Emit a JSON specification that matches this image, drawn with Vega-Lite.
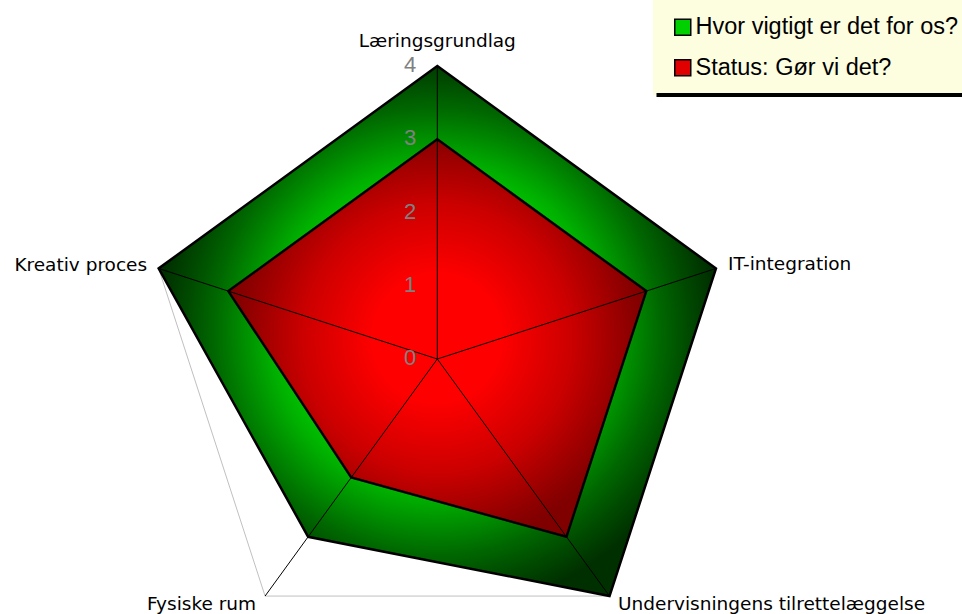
{
  "$schema": "https://vega.github.io/schema/vega-lite/v6.json",
  "width": 962,
  "height": 614,
  "autosize": "none",
  "padding": 0,
  "background": "white",
  "config": {"view": {"stroke": null}, "legend": {"strokeWidth": 4, "strokeDash": [0, 400, 333.5, 3000]}},
  "datasets": {
    "scores": [
      {"series": "Hvor vigtigt er det for os?", "axis": "Læringsgrundlag", "idx": 0, "value": 4},
      {"series": "Hvor vigtigt er det for os?", "axis": "IT-integration", "idx": 1, "value": 4},
      {"series": "Hvor vigtigt er det for os?", "axis": "Undervisningens tilrettelæggelse", "idx": 2, "value": 4},
      {"series": "Hvor vigtigt er det for os?", "axis": "Fysiske rum", "idx": 3, "value": 3},
      {"series": "Hvor vigtigt er det for os?", "axis": "Kreativ proces", "idx": 4, "value": 4},
      {"series": "Status: Gør vi det?", "axis": "Læringsgrundlag", "idx": 0, "value": 3},
      {"series": "Status: Gør vi det?", "axis": "IT-integration", "idx": 1, "value": 3},
      {"series": "Status: Gør vi det?", "axis": "Undervisningens tilrettelæggelse", "idx": 2, "value": 3},
      {"series": "Status: Gør vi det?", "axis": "Fysiske rum", "idx": 3, "value": 2},
      {"series": "Status: Gør vi det?", "axis": "Kreativ proces", "idx": 4, "value": 3}
    ],
    "axes": [
      {"axis": "Læringsgrundlag", "idx": 0, "max": 4},
      {"axis": "IT-integration", "idx": 1, "max": 4},
      {"axis": "Undervisningens tilrettelæggelse", "idx": 2, "max": 4},
      {"axis": "Fysiske rum", "idx": 3, "max": 4},
      {"axis": "Kreativ proces", "idx": 4, "max": 4}
    ],
    "ticks": [{"tick": 0}, {"tick": 1}, {"tick": 2}, {"tick": 3}, {"tick": 4}]
  },
  "layer": [
    {
      "data": {"name": "axes"},
      "transform": [
        {"calculate": "datum.idx*2*PI/5", "as": "a"},
        {"calculate": "datum.max*sin(datum.a)", "as": "x"},
        {"calculate": "datum.max*cos(datum.a)", "as": "y"}
      ],
      "mark": {"type": "line", "interpolate": "linear-closed", "stroke": "#c0c0c0", "strokeWidth": 1},
      "encoding": {
        "x": {"field": "x", "type": "quantitative", "scale": {"domain": [-5.97, 7.163], "nice": false, "zero": false}, "axis": null},
        "y": {"field": "y", "type": "quantitative", "scale": {"domain": [-3.481, 4.901], "nice": false, "zero": false}, "axis": null},
        "order": {"field": "idx", "type": "quantitative"}
      }
    },
    {
      "data": {"name": "scores"},
      "transform": [
        {"filter": "datum.series === 'Hvor vigtigt er det for os?'"},
        {"calculate": "datum.idx*2*PI/5", "as": "a"},
        {"calculate": "datum.value*sin(datum.a)", "as": "x"},
        {"calculate": "datum.value*cos(datum.a)", "as": "y"}
      ],
      "mark": {
        "type": "line", "interpolate": "linear-closed", "stroke": "black", "strokeWidth": 2.5, "strokeJoin": "miter",
        "fill": {"gradient": "radial", "x1": 0.5, "y1": 0.5, "r1": 0, "x2": 0.5, "y2": 0.5, "r2": 0.5,
          "stops": [
            {"offset": 0, "color": "#00dd00"},
            {"offset": 0.5, "color": "#00cc00"},
            {"offset": 0.6, "color": "#00b000"},
            {"offset": 0.7, "color": "#008c00"},
            {"offset": 0.8, "color": "#006800"},
            {"offset": 0.9, "color": "#004a00"},
            {"offset": 1, "color": "#003000"}
          ]}
      },
      "encoding": {
        "x": {"field": "x", "type": "quantitative", "scale": {"domain": [-5.97, 7.163], "nice": false, "zero": false}, "axis": null},
        "y": {"field": "y", "type": "quantitative", "scale": {"domain": [-3.481, 4.901], "nice": false, "zero": false}, "axis": null},
        "order": {"field": "idx", "type": "quantitative"}
      }
    },
    {
      "data": {"name": "scores"},
      "transform": [
        {"filter": "datum.series === 'Status: Gør vi det?'"},
        {"calculate": "datum.idx*2*PI/5", "as": "a"},
        {"calculate": "datum.value*sin(datum.a)", "as": "x"},
        {"calculate": "datum.value*cos(datum.a)", "as": "y"}
      ],
      "mark": {
        "type": "line", "interpolate": "linear-closed", "stroke": "black", "strokeWidth": 2.5, "strokeJoin": "miter",
        "fill": {"gradient": "radial", "x1": 0.5, "y1": 0.5, "r1": 0, "x2": 0.5, "y2": 0.5, "r2": 0.5,
          "stops": [
            {"offset": 0, "color": "#ff0000"},
            {"offset": 0.3, "color": "#ff0000"},
            {"offset": 0.64, "color": "#cc0000"},
            {"offset": 0.94, "color": "#8a0000"},
            {"offset": 1, "color": "#800000"}
          ]}
      },
      "encoding": {
        "x": {"field": "x", "type": "quantitative", "scale": {"domain": [-5.97, 7.163], "nice": false, "zero": false}, "axis": null},
        "y": {"field": "y", "type": "quantitative", "scale": {"domain": [-3.481, 4.901], "nice": false, "zero": false}, "axis": null},
        "order": {"field": "idx", "type": "quantitative"}
      }
    },
    {
      "data": {"name": "axes"},
      "transform": [
        {"calculate": "datum.idx*2*PI/5", "as": "a"},
        {"calculate": "datum.max*sin(datum.a)", "as": "x"},
        {"calculate": "datum.max*cos(datum.a)", "as": "y"},
        {"calculate": "0", "as": "cx"},
        {"calculate": "0", "as": "cy"}
      ],
      "mark": {"type": "rule", "stroke": "black", "strokeWidth": 1},
      "encoding": {
        "x": {"field": "cx", "type": "quantitative", "scale": {"domain": [-5.97, 7.163], "nice": false, "zero": false}, "axis": null},
        "y": {"field": "cy", "type": "quantitative", "scale": {"domain": [-3.481, 4.901], "nice": false, "zero": false}, "axis": null},
        "x2": {"field": "x"},
        "y2": {"field": "y"}
      }
    },
    {
      "data": {"name": "ticks"},
      "transform": [{"calculate": "0", "as": "cx"}],
      "mark": {"type": "text", "align": "right", "baseline": "middle", "dx": -21, "dy": -1, "font": "Liberation Sans", "fontSize": 22, "color": "#808080"},
      "encoding": {
        "x": {"field": "cx", "type": "quantitative", "scale": {"domain": [-5.97, 7.163], "nice": false, "zero": false}, "axis": null},
        "y": {"field": "tick", "type": "quantitative", "scale": {"domain": [-3.481, 4.901], "nice": false, "zero": false}, "axis": null},
        "text": {"field": "tick", "type": "quantitative"}
      }
    },
    {
      "data": {"name": "axes"},
      "transform": [
        {"filter": "datum.idx === 0"},
        {"calculate": "datum.idx*2*PI/5", "as": "a"},
        {"calculate": "datum.max*sin(datum.a)", "as": "x"},
        {"calculate": "datum.max*cos(datum.a)", "as": "y"}
      ],
      "mark": {"type": "text", "align": "center", "baseline": "alphabetic", "dy": -19, "font": "DejaVu Sans", "fontSize": 18.5, "color": "black"},
      "encoding": {
        "x": {"field": "x", "type": "quantitative", "scale": {"domain": [-5.97, 7.163], "nice": false, "zero": false}, "axis": null},
        "y": {"field": "y", "type": "quantitative", "scale": {"domain": [-3.481, 4.901], "nice": false, "zero": false}, "axis": null},
        "text": {"field": "axis", "type": "nominal"}
      }
    },
    {
      "data": {"name": "axes"},
      "transform": [
        {"filter": "datum.idx === 1"},
        {"calculate": "datum.idx*2*PI/5", "as": "a"},
        {"calculate": "datum.max*sin(datum.a)", "as": "x"},
        {"calculate": "datum.max*cos(datum.a)", "as": "y"}
      ],
      "mark": {"type": "text", "align": "left", "baseline": "alphabetic", "dx": 12, "dy": 2, "font": "DejaVu Sans", "fontSize": 18.5, "color": "black"},
      "encoding": {
        "x": {"field": "x", "type": "quantitative", "scale": {"domain": [-5.97, 7.163], "nice": false, "zero": false}, "axis": null},
        "y": {"field": "y", "type": "quantitative", "scale": {"domain": [-3.481, 4.901], "nice": false, "zero": false}, "axis": null},
        "text": {"field": "axis", "type": "nominal"}
      }
    },
    {
      "data": {"name": "axes"},
      "transform": [
        {"filter": "datum.idx === 2"},
        {"calculate": "datum.idx*2*PI/5", "as": "a"},
        {"calculate": "datum.max*sin(datum.a)", "as": "x"},
        {"calculate": "datum.max*cos(datum.a)", "as": "y"}
      ],
      "mark": {"type": "text", "align": "left", "baseline": "alphabetic", "dx": 8.5, "dy": 14, "font": "DejaVu Sans", "fontSize": 18.5, "color": "black"},
      "encoding": {
        "x": {"field": "x", "type": "quantitative", "scale": {"domain": [-5.97, 7.163], "nice": false, "zero": false}, "axis": null},
        "y": {"field": "y", "type": "quantitative", "scale": {"domain": [-3.481, 4.901], "nice": false, "zero": false}, "axis": null},
        "text": {"field": "axis", "type": "nominal"}
      }
    },
    {
      "data": {"name": "axes"},
      "transform": [
        {"filter": "datum.idx === 3"},
        {"calculate": "datum.idx*2*PI/5", "as": "a"},
        {"calculate": "datum.max*sin(datum.a)", "as": "x"},
        {"calculate": "datum.max*cos(datum.a)", "as": "y"}
      ],
      "mark": {"type": "text", "align": "right", "baseline": "alphabetic", "dx": -9, "dy": 14, "font": "DejaVu Sans", "fontSize": 18.5, "color": "black"},
      "encoding": {
        "x": {"field": "x", "type": "quantitative", "scale": {"domain": [-5.97, 7.163], "nice": false, "zero": false}, "axis": null},
        "y": {"field": "y", "type": "quantitative", "scale": {"domain": [-3.481, 4.901], "nice": false, "zero": false}, "axis": null},
        "text": {"field": "axis", "type": "nominal"}
      }
    },
    {
      "data": {"name": "axes"},
      "transform": [
        {"filter": "datum.idx === 4"},
        {"calculate": "datum.idx*2*PI/5", "as": "a"},
        {"calculate": "datum.max*sin(datum.a)", "as": "x"},
        {"calculate": "datum.max*cos(datum.a)", "as": "y"}
      ],
      "mark": {"type": "text", "align": "right", "baseline": "alphabetic", "dx": -11.5, "dy": 2.5, "font": "DejaVu Sans", "fontSize": 18.5, "color": "black"},
      "encoding": {
        "x": {"field": "x", "type": "quantitative", "scale": {"domain": [-5.97, 7.163], "nice": false, "zero": false}, "axis": null},
        "y": {"field": "y", "type": "quantitative", "scale": {"domain": [-3.481, 4.901], "nice": false, "zero": false}, "axis": null},
        "text": {"field": "axis", "type": "nominal"}
      }
    },
    {
      "data": {"name": "scores"},
      "transform": [
        {"calculate": "datum.idx*2*PI/5", "as": "a"},
        {"calculate": "datum.value*sin(datum.a)", "as": "x"},
        {"calculate": "datum.value*cos(datum.a)", "as": "y"}
      ],
      "mark": {"type": "point", "shape": "square", "filled": true, "opacity": 0, "stroke": "black", "strokeWidth": 1.5},
      "encoding": {
        "x": {"field": "x", "type": "quantitative", "scale": {"domain": [-5.97, 7.163], "nice": false, "zero": false}, "axis": null},
        "y": {"field": "y", "type": "quantitative", "scale": {"domain": [-3.481, 4.901], "nice": false, "zero": false}, "axis": null},
        "color": {
          "field": "series", "type": "nominal",
          "scale": {"domain": ["Hvor vigtigt er det for os?", "Status: Gør vi det?"], "range": ["#00d000", "#e00000"]},
          "legend": {
            "title": null, "orient": "none", "legendX": 653, "legendY": 0,
            "padding": 15.5, "rowPadding": 15.5,
            "symbolType": "square", "symbolSize": 256, "symbolStrokeColor": "black", "symbolStrokeWidth": 1.5,
            "symbolOpacity": 1, "symbolOffset": 2.5, "labelOffset": 1,
            "labelFont": "Liberation Sans", "labelFontSize": 23.5, "labelColor": "black", "labelLimit": 500,
            "fillColor": "#fdfde0", "strokeColor": "black"
          }
        }
      }
    }
  ]
}
